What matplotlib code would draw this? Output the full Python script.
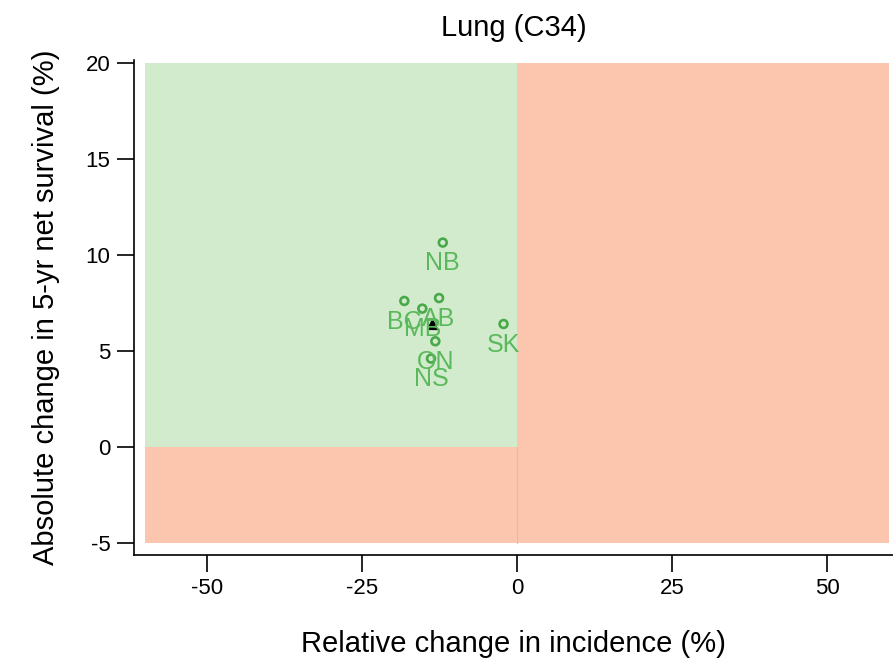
import numpy as np
import matplotlib as mpl
mpl.use('Agg')
import matplotlib.pyplot as plt

plt.rcParams['font.family'] = ['Liberation Sans', 'DejaVu Sans']
plt.rcParams['axes.unicode_minus'] = False

######################
## data
######################

provinces = ['NB', 'BC', 'AB', 'MB', 'ON', 'NS', 'SK']
incidence_change = [-12.0, -18.2, -12.6, -15.3, -13.2, -13.9, -2.2]
survival_change = [10.64, 7.6, 7.75, 7.2, 5.5, 4.6, 6.4]

canada_incidence = [-13.8]
canada_survival = [6.4]

xticks = [-50, -25, 0, 25, 50]
yticks = [-5, 0, 5, 10, 15, 20]

######################
## setup plot
######################

fig = plt.figure(figsize=(8.93, 6.59), dpi=100)
ax = fig.add_axes([0.150, 0.158, 0.850, 0.751])

green = '#d1ebcc'
red = '#fcc5ae'

# background quadrants
ax.fill_between([-60, 0], 0, 20, color=green, linewidth=0, zorder=0)
ax.fill_between([0, 60], -5, 20, color=red, linewidth=0, zorder=0)
ax.fill_between([-60, 0], -5, 0, color=red, linewidth=0, zorder=0)
ax.plot([0, 0], [-5, 0], color='#f7b49b', linewidth=0.8, zorder=1)

ax.scatter(incidence_change, survival_change, s=32, facecolors='none',
           edgecolors='#4aa84a', linewidths=1.9, zorder=3)
ax.scatter(canada_incidence, canada_survival, s=50, marker='^', color='black', zorder=4)

for lab, xv, yv in zip(provinces, incidence_change, survival_change):
    ax.annotate(lab, (xv, yv), xytext=(0, -15), textcoords='offset points',
                ha='center', va='center', fontsize=18, color='#5cb85c', zorder=5)

ax.set_xlim(-61.8, 60.6)
ax.set_ylim(-5.625, 20.15)
ax.set_xticks(xticks)
ax.set_yticks(yticks)
ax.tick_params(axis='both', labelsize=16, length=12, width=1.2, pad=5)

for s in ['top', 'right']:
    ax.spines[s].set_visible(False)
for s in ['left', 'bottom']:
    ax.spines[s].set_linewidth(1.2)

ax.set_title('Lung (C34)', fontsize=21, pad=17)
ax.set_xlabel('Relative change in incidence (%)', fontsize=21, labelpad=22)
ax.set_ylabel('Absolute change in 5-yr net survival (%)', fontsize=21, labelpad=18)

plt.savefig('out.png')
